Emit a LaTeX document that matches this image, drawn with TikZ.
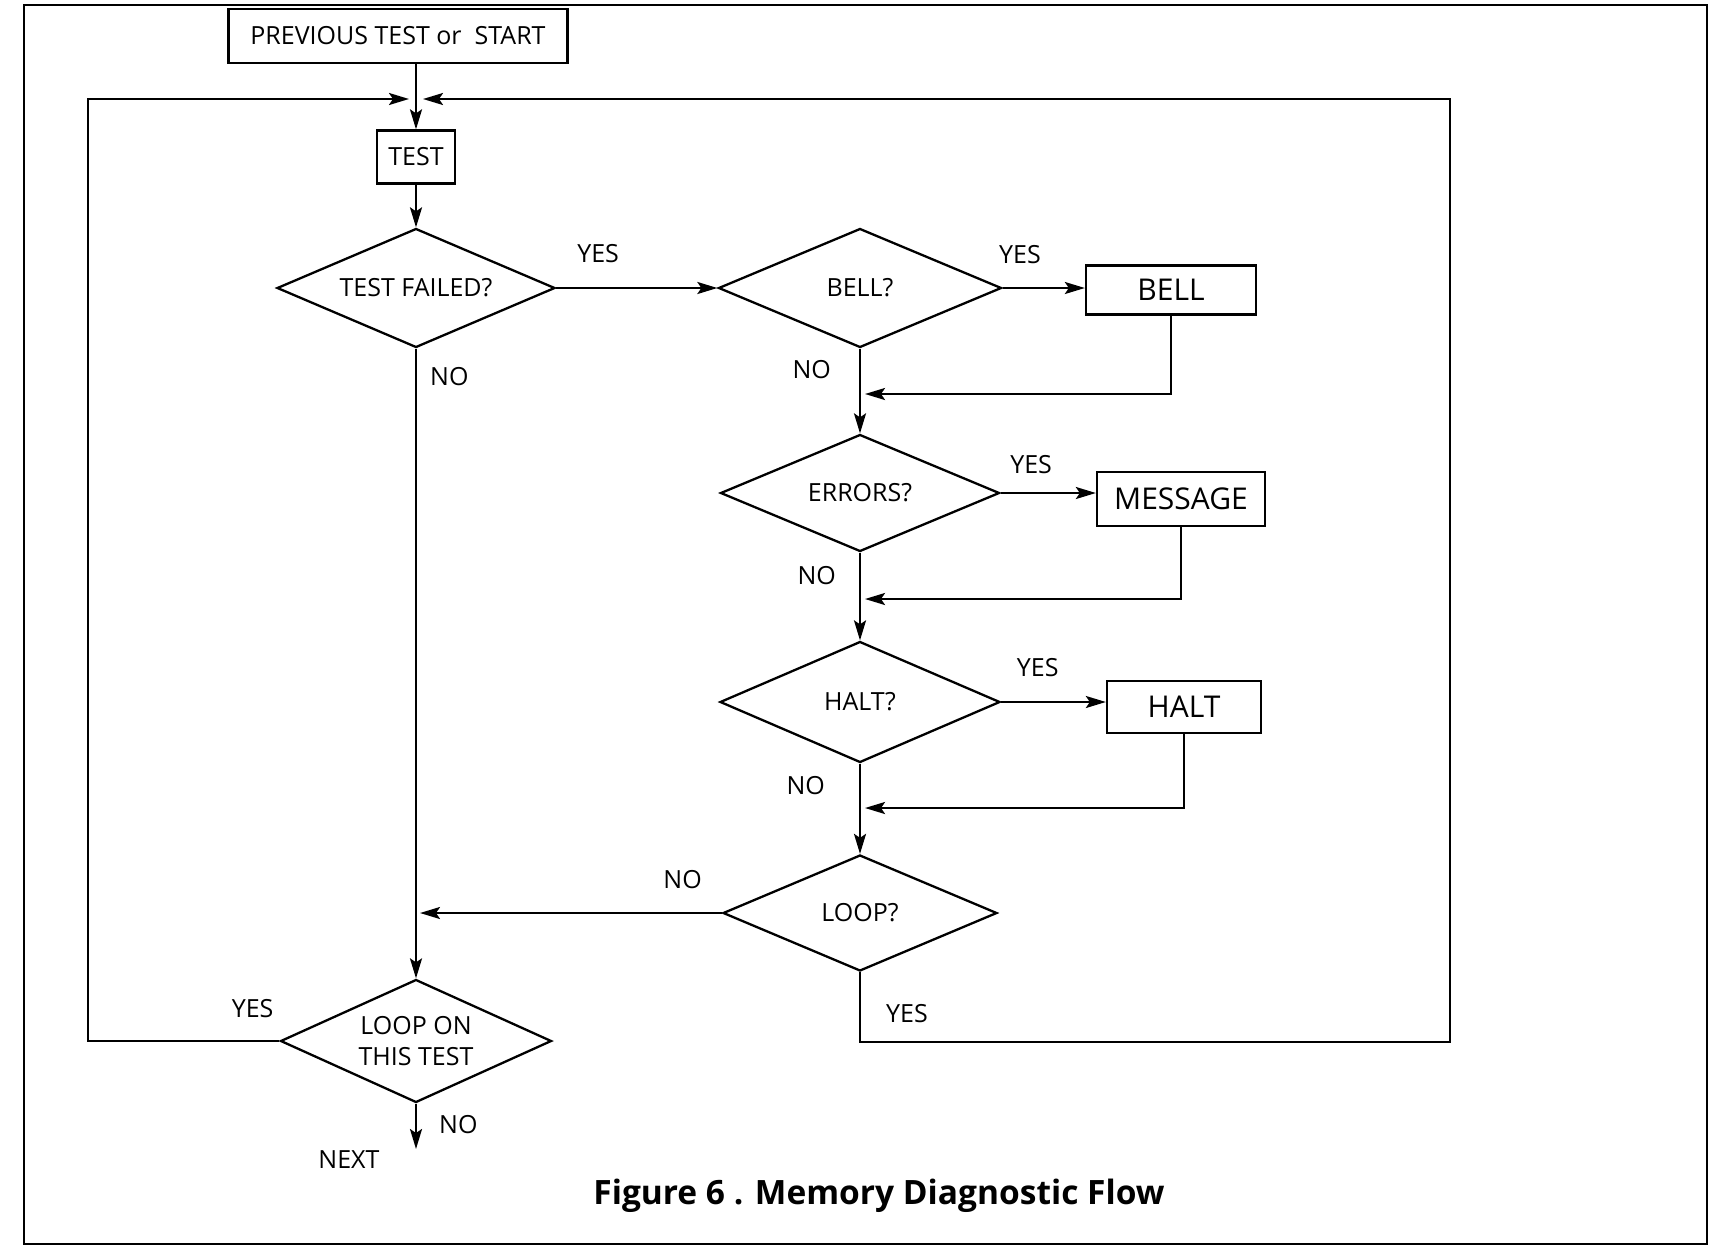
\documentclass[tikz,border=0pt]{standalone}
\usepackage{fontspec}
\setmainfont{Open Sans}
\usetikzlibrary{positioning,arrows.meta,shapes.geometric}

\begin{document}
\begin{tikzpicture}[x=1pt,y=-1pt,line width=2.3pt,
  every node/.style={font=\fontsize{25}{31}\selectfont,align=center,inner sep=0pt},
  box/.style={draw,minimum width=#1,minimum height=53pt},
  bigbox/.style={draw,font=\fontsize{30}{36}\selectfont,minimum width=#1,minimum height=52pt},
  decision/.style={draw,diamond,aspect=2.3,minimum width=278pt,minimum height=119pt},
  flow/.style={-{Stealth[length=20pt,width=12pt,inset=4pt]}}]
  \useasboundingbox (0,0) rectangle (1710,1248);
  \draw[line width=1.8pt] (24,5) rectangle (1707,1244);

  % left column
  \node[box=339pt,minimum height=54pt] (start) at (398,36) {PREVIOUS TEST or~ START};
  \node[box=78pt] (test) at (416,157) {TEST};
  \node[decision] (failed) at (416,288) {TEST FAILED?};
  \node[decision,minimum width=271pt,minimum height=123pt] (loopon) at (416,1041) {LOOP ON\\THIS TEST};
  \node (next) at (349,1160) {NEXT};

  % right column
  \node[decision,minimum width=283pt] (bellq) at (860,288) {BELL?};
  \node[bigbox=170pt,minimum height=49pt] (bell) at (1171,290) {BELL};
  \node[decision,minimum width=279pt,minimum height=117pt] (errq) at (860,493) {ERRORS?};
  \node[bigbox=168pt,minimum height=54pt] (msg) at (1181,499) {MESSAGE};
  \node[decision,minimum width=280pt,minimum height=121pt] (haltq) at (860,702) {HALT?};
  \node[bigbox=154pt] (halt) at (1184,707) {HALT};
  \node[decision,minimum width=274pt,minimum height=116pt] (loopq) at (860,913) {LOOP?};

  \node[font=\fontsize{33.5}{40}\selectfont\bfseries] (caption) at (879,1196) {Figure 6 . Memory Diagnostic Flow};

  % loop corners and arrow ends
  \coordinate (lefttop) at (88,99);
  \coordinate (righttop) at (1450,99);
  \coordinate (rightbot) at (1450,1042);
  \coordinate (leftin) at (409,99);
  \coordinate (rightin) at (423,99);
  \coordinate (bellin) at (865,394);
  \coordinate (msgin) at (865,599);
  \coordinate (haltin) at (865,808);
  \coordinate (loopin) at (420,913);
  \coordinate (exit) at (416,1149);

  \draw[flow] (start.south -| test.north) -- (test.north);
  \draw[flow] (test.south) -- (failed.north);
  \draw[flow] (failed.east) -- node[above=24pt,pos=.26]{YES} (bellq.west);
  \draw[flow] (failed.south) -- node[right=13pt,pos=.044]{NO} (loopon.north);

  \draw[flow] (bellq.east) -- node[above=23pt,pos=.21]{YES} (bellq.east -| bell.west);
  \draw[flow] (bell.south) |- (bellin);
  \draw[flow] (bellq.south) -- node[left=28pt,pos=.25]{NO} (errq.north);
  \draw[flow] (errq.east) -- node[above=18pt,pos=.32]{YES} (errq.east -| msg.west);
  \draw[flow] (msg.south) |- (msgin);
  \draw[flow] (errq.south) -- node[left=23pt,pos=.26]{NO} (haltq.north);
  \draw[flow] (haltq.east) -- node[above=24pt,pos=.35]{YES} (haltq.east -| halt.west);
  \draw[flow] (halt.south) |- (haltin);
  \draw[flow] (haltq.south) -- node[left=34pt,pos=.24]{NO} (loopq.north);

  \draw[flow] (loopq.west) -- node[above=23pt,pos=.13]{NO} (loopin);
  \draw[flow] (loopq.south) -- node[right=25pt,pos=.59]{YES} (loopq.south |- rightbot) -| (righttop) -- (rightin);
  \draw[flow] (loopon.west) -- node[above=22pt,pos=.14]{YES} (loopon.west -| lefttop) -- (lefttop) -- (leftin);
  \draw[flow] (loopon.south) -- node[right=22pt,pos=.46]{NO} (exit);
\end{tikzpicture}
\end{document}
